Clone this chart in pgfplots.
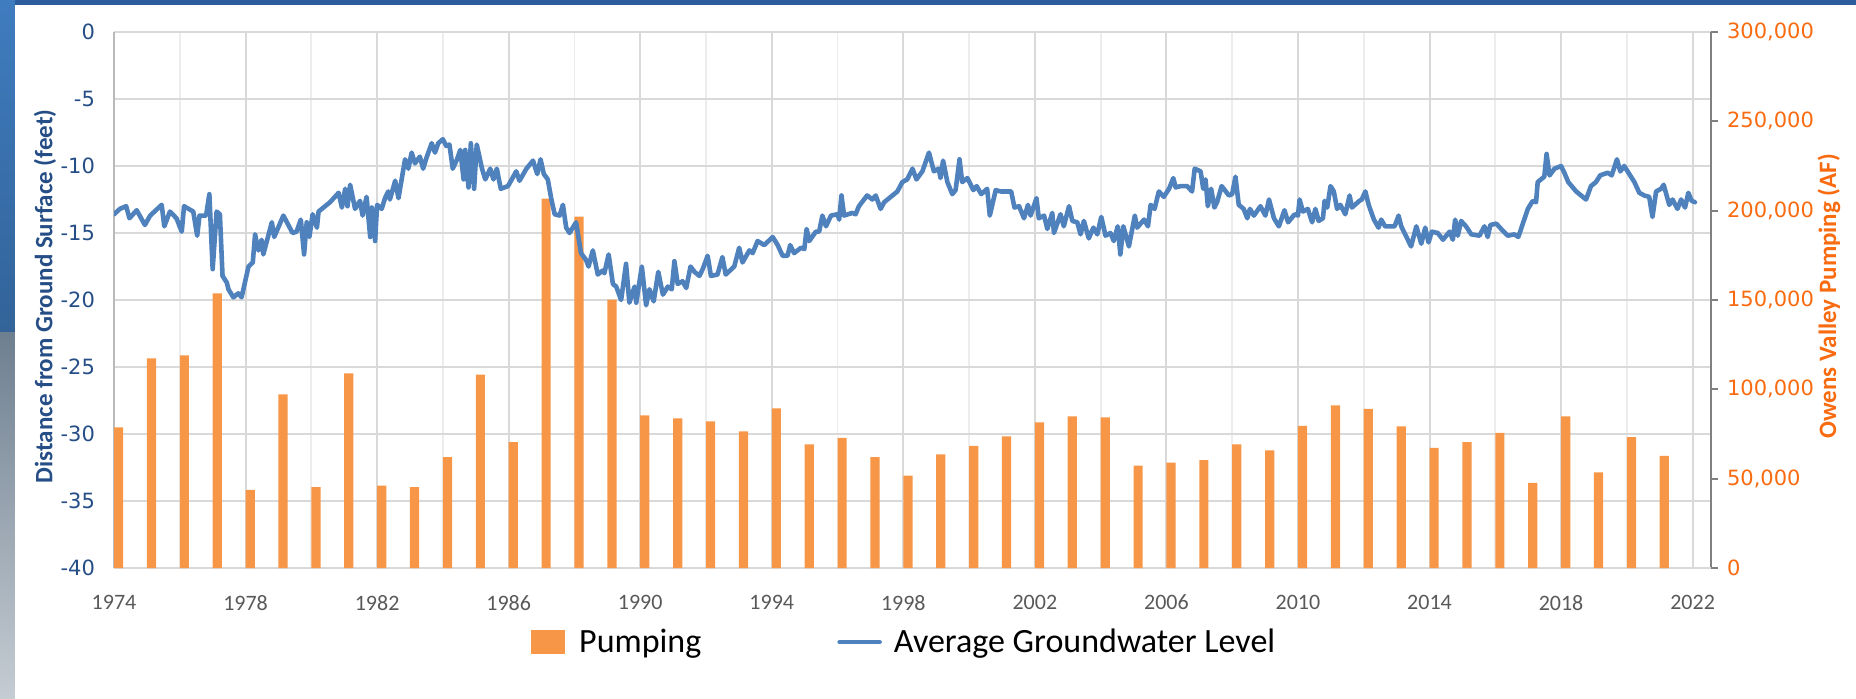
\documentclass[border=0pt]{standalone}
\usepackage{pgfplots}
\pgfplotsset{compat=1.18}
\usepackage{fontspec}
\setmainfont{Carlito}
\newfontfamily\dejavu{DejaVu Sans}
\definecolor{barorange}{HTML}{F79646}
\definecolor{lineblue}{HTML}{4F81BD}
\definecolor{leftblue}{HTML}{264E86}
\definecolor{rightorange}{HTML}{F96B10}
\definecolor{gridc}{HTML}{D9D9D9}
\definecolor{gridminor}{HTML}{EDEDED}
\definecolor{ticklab}{HTML}{595959}
\definecolor{frameblue}{HTML}{2B5C9B}
\definecolor{stripblue}{HTML}{3F7CBF}
\definecolor{stripgray}{HTML}{6E7F90}

\pgfplotstableread{
year pump
1974 78700
1975 117400
1976 119000
1977 153700
1978 43800
1979 97200
1980 45300
1981 109000
1982 46100
1983 45300
1984 62100
1985 108200
1986 70500
1987 206700
1988 196600
1989 150200
1990 85400
1991 83800
1992 82100
1993 76500
1994 89400
1995 69200
1996 72800
1997 62100
1998 51700
1999 63600
2000 68300
2001 73700
2002 81500
2003 84900
2004 84300
2005 57300
2006 59000
2007 60400
2008 69200
2009 65900
2010 79500
2011 91000
2012 89000
2013 79300
2014 67200
2015 70500
2016 75600
2017 47600
2018 84900
2019 53500
2020 73300
2021 62700
}\pumptable

\pgfplotstableread{
t lvl
1974.00 -13.6
1974.18 -13.2
1974.37 -13.0
1974.47 -13.9
1974.69 -13.3
1974.94 -14.4
1975.10 -13.7
1975.45 -12.9
1975.53 -14.5
1975.70 -13.4
1975.90 -13.9
1976.06 -14.9
1976.13 -13.0
1976.41 -13.4
1976.53 -15.2
1976.60 -13.7
1976.80 -13.7
1976.90 -12.1
1977.00 -17.7
1977.12 -13.4
1977.22 -13.6
1977.30 -18.2
1977.43 -18.7
1977.48 -19.2
1977.63 -19.8
1977.78 -19.5
1977.88 -19.8
1978.09 -17.5
1978.22 -17.2
1978.29 -15.1
1978.39 -16.3
1978.49 -15.5
1978.54 -16.6
1978.80 -14.2
1978.87 -15.3
1979.15 -13.7
1979.43 -15.0
1979.55 -14.9
1979.68 -14.0
1979.78 -16.6
1979.86 -14.2
1979.94 -15.3
1980.04 -13.6
1980.17 -14.6
1980.22 -13.4
1980.57 -12.7
1980.83 -12.0
1980.93 -13.1
1981.03 -11.7
1981.10 -13.0
1981.18 -11.4
1981.33 -13.2
1981.48 -12.6
1981.56 -13.7
1981.68 -12.3
1981.79 -15.3
1981.84 -13.1
1981.94 -15.6
1982.00 -12.9
1982.14 -13.2
1982.24 -12.4
1982.34 -11.9
1982.39 -12.5
1982.55 -11.1
1982.65 -12.4
1982.85 -9.5
1982.95 -10.2
1983.05 -9.0
1983.15 -9.8
1983.30 -9.3
1983.40 -10.2
1983.50 -9.4
1983.66 -8.3
1983.76 -9.0
1983.86 -8.3
1984.00 -8.0
1984.10 -8.5
1984.20 -8.4
1984.30 -10.2
1984.43 -9.5
1984.53 -8.8
1984.63 -11.0
1984.68 -8.8
1984.78 -11.6
1984.85 -8.3
1984.95 -11.7
1985.03 -8.4
1985.19 -10.2
1985.29 -11.0
1985.44 -10.2
1985.54 -11.0
1985.64 -10.2
1985.76 -11.7
1985.98 -11.5
1986.23 -10.4
1986.33 -11.1
1986.54 -10.2
1986.74 -9.6
1986.87 -10.6
1986.97 -9.5
1987.07 -10.6
1987.19 -11.0
1987.30 -12.5
1987.40 -13.6
1987.55 -13.7
1987.65 -12.9
1987.75 -14.6
1987.85 -15.0
1988.05 -14.2
1988.20 -16.5
1988.35 -17.0
1988.43 -17.5
1988.56 -16.3
1988.71 -18.1
1988.86 -17.8
1988.91 -18.0
1989.04 -16.6
1989.17 -18.8
1989.27 -19.0
1989.42 -20.0
1989.57 -17.3
1989.67 -20.2
1989.83 -19.0
1989.88 -20.2
1990.05 -17.5
1990.18 -20.4
1990.28 -19.2
1990.41 -20.1
1990.55 -17.9
1990.69 -19.6
1990.84 -19.0
1990.96 -19.2
1991.04 -17.1
1991.14 -18.8
1991.29 -18.6
1991.40 -19.1
1991.53 -17.5
1991.65 -17.9
1991.80 -18.2
1991.90 -17.7
1992.05 -16.7
1992.15 -18.2
1992.35 -18.1
1992.50 -16.8
1992.60 -18.1
1992.86 -17.5
1993.01 -16.1
1993.11 -17.2
1993.32 -16.3
1993.42 -16.5
1993.57 -15.6
1993.77 -15.9
1994.03 -15.3
1994.18 -15.9
1994.33 -16.7
1994.48 -16.7
1994.56 -15.9
1994.68 -16.5
1994.89 -16.1
1994.99 -16.2
1995.06 -14.7
1995.14 -15.6
1995.34 -14.9
1995.44 -14.9
1995.54 -13.7
1995.65 -14.5
1995.80 -13.7
1996.00 -13.6
1996.05 -14.0
1996.12 -12.2
1996.20 -13.7
1996.45 -13.5
1996.55 -13.6
1996.65 -13.0
1996.90 -12.2
1997.06 -12.5
1997.16 -12.2
1997.31 -13.2
1997.42 -12.7
1997.62 -12.3
1997.82 -11.9
1997.97 -11.2
1998.12 -11.0
1998.28 -10.2
1998.40 -11.0
1998.58 -10.4
1998.78 -9.0
1998.93 -10.4
1999.08 -10.2
1999.13 -10.9
1999.21 -9.6
1999.34 -11.2
1999.49 -12.1
1999.59 -11.8
1999.71 -9.5
1999.79 -11.2
1999.95 -10.9
2000.13 -11.8
2000.23 -11.5
2000.37 -12.1
2000.55 -11.7
2000.63 -13.7
2000.81 -11.8
2000.96 -11.9
2001.16 -11.9
2001.28 -11.9
2001.38 -13.1
2001.52 -13.0
2001.67 -13.9
2001.79 -12.9
2001.87 -13.7
2002.05 -12.4
2002.12 -13.9
2002.28 -13.7
2002.38 -14.7
2002.53 -13.5
2002.58 -15.0
2002.78 -13.6
2002.88 -14.5
2003.04 -13.0
2003.14 -14.1
2003.29 -14.2
2003.39 -15.1
2003.49 -14.1
2003.64 -15.4
2003.78 -14.6
2003.90 -15.1
2004.02 -13.8
2004.15 -15.2
2004.30 -15.0
2004.40 -15.6
2004.52 -14.5
2004.60 -16.6
2004.69 -14.5
2004.86 -16.0
2005.04 -13.7
2005.11 -14.6
2005.32 -14.0
2005.44 -14.5
2005.52 -12.9
2005.64 -13.2
2005.77 -11.9
2005.92 -12.3
2006.08 -11.7
2006.21 -10.9
2006.28 -11.6
2006.43 -11.5
2006.63 -11.5
2006.78 -11.9
2006.86 -10.2
2007.04 -10.4
2007.12 -11.7
2007.19 -11.0
2007.26 -13.0
2007.36 -11.7
2007.46 -13.1
2007.54 -12.7
2007.68 -11.5
2007.90 -12.2
2008.00 -12.1
2008.10 -10.8
2008.20 -12.9
2008.35 -13.2
2008.46 -13.9
2008.54 -13.2
2008.66 -13.7
2008.86 -13.0
2009.01 -13.7
2009.12 -12.5
2009.27 -13.9
2009.42 -14.5
2009.59 -13.3
2009.70 -14.2
2009.90 -13.6
2010.00 -13.7
2010.05 -12.5
2010.15 -13.4
2010.30 -13.2
2010.43 -14.2
2010.53 -13.2
2010.63 -14.1
2010.76 -13.9
2010.81 -12.6
2010.89 -13.1
2010.99 -11.5
2011.09 -11.9
2011.19 -13.2
2011.29 -12.9
2011.44 -13.6
2011.57 -12.2
2011.64 -13.1
2011.87 -12.6
2011.94 -12.5
2012.05 -11.9
2012.15 -12.9
2012.31 -14.0
2012.45 -14.6
2012.53 -14.0
2012.65 -14.5
2012.94 -14.5
2013.06 -13.7
2013.14 -14.5
2013.26 -15.1
2013.34 -15.5
2013.44 -16.0
2013.60 -14.5
2013.75 -15.8
2013.87 -14.6
2013.97 -15.7
2014.07 -14.9
2014.25 -15.0
2014.41 -15.5
2014.61 -14.9
2014.71 -15.5
2014.78 -14.0
2014.86 -15.2
2014.96 -14.1
2015.11 -14.5
2015.27 -15.1
2015.52 -15.2
2015.67 -14.5
2015.77 -15.3
2015.85 -14.4
2016.03 -14.3
2016.18 -14.7
2016.38 -15.2
2016.58 -15.1
2016.70 -15.3
2016.99 -13.2
2017.14 -12.6
2017.24 -12.7
2017.29 -11.2
2017.49 -10.8
2017.56 -9.1
2017.65 -10.7
2017.80 -10.2
2018.00 -10.0
2018.10 -10.5
2018.22 -11.2
2018.46 -11.9
2018.61 -12.2
2018.76 -12.5
2018.91 -11.5
2019.06 -11.2
2019.19 -10.7
2019.42 -10.5
2019.54 -10.7
2019.70 -9.5
2019.80 -10.4
2019.92 -10.0
2020.23 -11.2
2020.38 -12.0
2020.53 -12.2
2020.68 -12.3
2020.78 -13.8
2020.89 -11.9
2021.04 -11.7
2021.12 -11.4
2021.29 -12.9
2021.39 -12.5
2021.54 -13.2
2021.65 -12.5
2021.77 -13.1
2021.87 -12.0
2021.97 -12.6
2022.07 -12.7
}\leveltable

\begin{document}
\begin{tikzpicture}
% frame decorations (outside the plot area)
\fill[frameblue] (-57pt,281.5pt) rectangle (871pt,284pt);
\shade[top color=stripblue, bottom color=stripblue!80!black] (-57pt,118pt) rectangle (-49.5pt,284pt);
\shade[top color=stripgray, bottom color=stripgray!40!white] (-57pt,-65pt) rectangle (-49.5pt,118pt);

% secondary axis: pumping bars
\begin{axis}[
  set layers,
  scale only axis, width=798.5pt, height=268pt,
  xmin=1974, xmax=2022.56,
  ymin=0, ymax=300000,
  axis x line=none,
  axis y line*=right,
  scaled y ticks=false,
  ytick={0,50000,100000,150000,200000,250000,300000},
  yticklabels={0,{50,000},{100,000},{150,000},{200,000},{250,000},{300,000}},
  tick align=outside,
  major tick length=3.5pt,
  y axis line style={draw=black!50, line width=1pt},
  ytick style={draw=black!50, line width=1pt},
  yticklabel style={font=\dejavu\fontsize{10.5pt}{12pt}\selectfont, text=rightorange, xshift=1pt},
  ylabel={Owens Valley Pumping (AF)},
  ylabel style={at={(axis description cs:1.0739,0.507)}, anchor=center,
    font=\bfseries\fontsize{12.5pt}{14pt}\selectfont, text=rightorange},
]
\addplot[ybar, bar width=4.6pt, bar shift=2.3pt, fill=barorange, draw=none] table[x=year, y=pump] {\pumptable};
\end{axis}

% primary axis: groundwater level
\begin{axis}[
  set layers,
  scale only axis, width=798.5pt, height=268pt,
  xmin=1974, xmax=2022.56,
  ymin=-40, ymax=0,
  axis x line*=bottom, axis y line*=left,
  xtick={1974,1978,1982,1986,1990,1994,1998,2002,2006,2010,2014,2018,2022},
  xticklabels={1974,1978,1982,1986,1990,1994,1998,2002,2006,2010,2014,2018,2022},
  minor xtick={1976,1980,1984,1988,1992,1996,2000,2004,2008,2012,2016,2020},
  ytick={-40,-35,-30,-25,-20,-15,-10,-5,0},
  yticklabels={-40,-35,-30,-25,-20,-15,-10,-5,0},
  grid=both,
  major grid style={draw=gridc, line width=1pt},
  minor grid style={draw=gridminor, line width=0.9pt},
  major tick length=0pt, minor tick length=0pt,
  x axis line style={draw=gridc, line width=1.2pt},
  y axis line style={draw=black!27, line width=1pt},
  xticklabel style={font=\fontsize{11pt}{12pt}\selectfont, text=ticklab, yshift=-10pt},
  yticklabel style={font=\dejavu\fontsize{10.5pt}{12pt}\selectfont, text=leftblue, xshift=-6pt},
  ylabel={Distance from Ground Surface (feet)},
  ylabel style={at={(axis description cs:-0.0432,0.507)}, anchor=center,
    font=\bfseries\fontsize{12.5pt}{14pt}\selectfont, text=leftblue},
  legend style={at={(0.261,-0.138)}, anchor=west, draw=none, fill=none,
    inner sep=0pt, legend columns=2,
    font=\fontsize{17pt}{20pt}\selectfont,
    /tikz/column 1/.style={column sep=5pt},
    /tikz/column 2/.style={column sep=66pt},
    /tikz/column 3/.style={column sep=4pt}},
]
\addlegendimage{fill=barorange, draw=none,
  legend image code/.code={\fill[barorange] (0pt,-6pt) rectangle (17pt,6pt);}}
\addlegendentry{Pumping}
\addplot[lineblue, line width=2.3pt, line join=round, line cap=round,
  legend image code/.code={\draw[lineblue, line width=2.3pt] (0pt,0pt) -- (20pt,0pt);}]
  table[x=t, y=lvl] {\leveltable};
\addlegendentry{Average Groundwater Level}
\end{axis}

\pgfresetboundingbox
\useasboundingbox (-57pt,-65pt) rectangle (871pt,284pt);
\end{tikzpicture}
\end{document}
